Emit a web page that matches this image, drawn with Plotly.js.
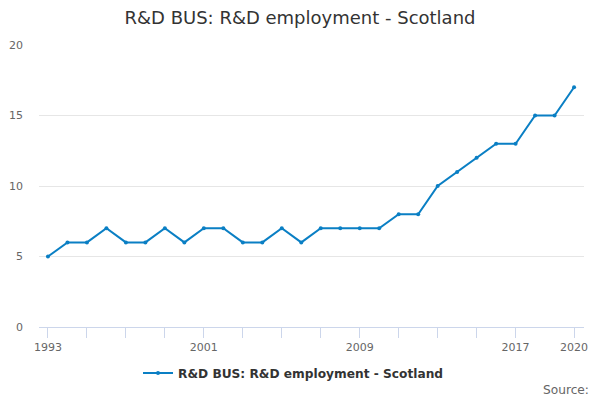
<!DOCTYPE html>
<html>
<head>
<meta charset="utf-8">
<script src="https://cdn.plot.ly/plotly-3.0.1.min.js"></script>
<style>html,body{margin:0;padding:0;background:#fff;}#chart{width:600px;height:400px;}</style>
</head>
<body>
<div id="chart"></div>
<script>
const years = [1993,1994,1995,1996,1997,1998,1999,2000,2001,2002,2003,2004,2005,2006,2007,2008,2009,2010,2011,2012,2013,2014,2015,2016,2017,2018,2019,2020];
const values = [5,6,6,7,6,6,7,6,7,7,6,6,7,6,7,7,7,7,8,8,10,11,12,13,13,15,15,17];
const tickYears = [1993,1995,1997,1999,2001,2003,2005,2007,2009,2011,2013,2015,2017,2020];
const tickLabels = ['1993','','','','2001','','','','2009','','','','2017','2020'];
const seriesName = 'R&D BUS: R&D employment - Scotland';
const titleText = 'R&D BUS: R&D employment - Scotland';
const sourceText = 'Source:';

const font = 'DejaVu Sans, sans-serif';
const trace = {
  x: years, y: values, type: 'scatter', mode: 'lines+markers', name: seriesName,
  line: {color: '#0a7fc4', width: 2},
  marker: {color: '#0a7fc4', size: 4}
};
const layout = {
  width: 600, height: 400,
  margin: {l: 39, r: 16, t: 45, b: 73},
  paper_bgcolor: '#fff', plot_bgcolor: '#fff',
  font: {family: font, color: '#666', size: 11},
  title: {text: titleText, font: {family: font, size: 18, color: '#333'}, x: 0.5, xanchor: 'center', y: 0.955, yanchor: 'middle'},
  showlegend: true,
  legend: {orientation: 'h', x: 0.467, xanchor: 'center', y: -0.163, yanchor: 'middle', itemwidth: 30, font: {family: font, size: 12.2, color: '#333', weight: 'bold'}},
  xaxis: {
    range: [1992.54, 2020.51], tickmode: 'array', tickvals: tickYears, ticktext: tickLabels,
    showgrid: false, zeroline: false, showline: true, linecolor: '#ccd6eb', linewidth: 1,
    ticks: 'outside', ticklen: 10, tickcolor: '#ccd6eb', tickwidth: 1,
    tickfont: {family: font, size: 11, color: '#666'}, fixedrange: true
  },
  yaxis: {
    range: [0, 20], tickvals: [0,5,10,15,20], showgrid: true, gridcolor: '#e6e6e6', gridwidth: 1,
    zeroline: false, showline: false, ticks: '', ticklabelstandoff: 15,
    tickfont: {family: font, size: 11, color: '#666'}, fixedrange: true
  },
  annotations: [{
    text: sourceText, xref: 'paper', yref: 'paper', x: 1.013, xanchor: 'right', y: -0.223, yanchor: 'middle',
    showarrow: false, font: {family: font, size: 12.2, color: '#666'}
  }]
};
Plotly.newPlot('chart', [trace], layout, {displayModeBar: false, staticPlot: true});
</script>
</body>
</html>
